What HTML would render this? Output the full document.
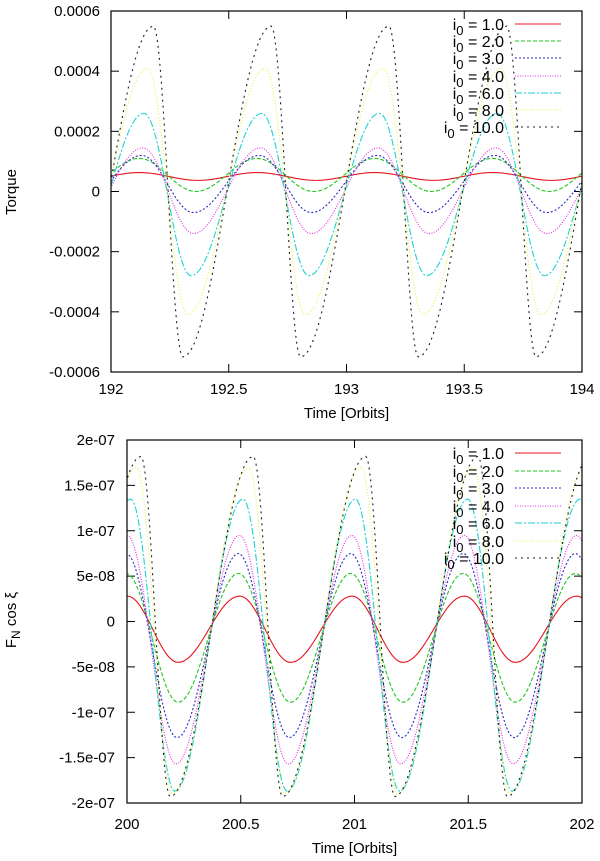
<!DOCTYPE html>
<html><head><meta charset="utf-8"><style>
html,body{margin:0;padding:0;background:#fff;}
svg{display:block;font-family:"Liberation Sans",sans-serif;}
</style></head><body>
<svg id="fig" width="600" height="861" viewBox="0 0 600 861" xmlns="http://www.w3.org/2000/svg"></svg>
<script>
// ---------- shared legend data ----------
const seriesLabels = ["1.0","2.0","3.0","4.0","6.0","8.0","10.0"];
const seriesColors = ["#e8141e","#1ec81e","#2828c8","#e628e6","#1ed2d2","#f0f032","#202020"];
const seriesDash = ["", "4,2", "2,2", "1,1.5", "7,2,2,2", "1,2", "2,4"];

// ---------- top chart (Torque) ----------
const topXTicks = [192,192.5,193,193.5,194];
const topYTicks = [-0.0006,-0.0004,-0.0002,0,0.0002,0.0004,0.0006];
const topYTickLabels = ["-0.0006","-0.0004","-0.0002","0","0.0002","0.0004","0.0006"];
const topPeakValues = [0.000063,0.00011,0.00012,0.000145,0.00026,0.00041,0.00055];
const topTroughValues = [0.000037,0.0,-0.00007,-0.00014,-0.00028,-0.00041,-0.00055];
const topPeakTimes = [
 [191.62,192.12,192.62,193.12,193.62,194.12],
 [191.62,192.12,192.62,193.12,193.62,194.12],
 [191.63,192.13,192.63,193.13,193.63,194.13],
 [191.635,192.135,192.635,193.135,193.635,194.135],
 [191.64,192.14,192.64,193.14,193.64,194.14],
 [191.655,192.155,192.655,193.155,193.655,194.155],
 [191.68,192.18,192.68,193.18,193.68,194.18]
];
const topTroughTimes = [
 [191.87,192.37,192.87,193.37,193.87,194.37],
 [191.86,192.36,192.86,193.36,193.86,194.36],
 [191.85,192.35,192.85,193.35,193.85,194.35],
 [191.85,192.35,192.85,193.35,193.85,194.35],
 [191.84,192.34,192.84,193.34,193.84,194.34],
 [191.825,192.325,192.825,193.325,193.825,194.325],
 [191.805,192.305,192.805,193.305,193.805,194.305]
];

// ---------- bottom chart (F_N cos xi) ----------
const botXTicks = [200,200.5,201,201.5,202];
const botYTicks = [-2e-7,-1.5e-7,-1e-7,-5e-8,0,5e-8,1e-7,1.5e-7,2e-7];
const botYTickLabels = ["-2e-07","-1.5e-07","-1e-07","-5e-08","0","5e-08","1e-07","1.5e-07","2e-07"];
const botPeakValues = [2.8e-8,5.3e-8,7.5e-8,9.5e-8,1.35e-7,1.7e-7,1.82e-7];
const botTroughValues = [-4.5e-8,-8.9e-8,-1.28e-7,-1.57e-7,-1.87e-7,-1.9e-7,-1.93e-7];
const botPeakTimes = [
 [199.507,200.001,200.495,200.989,201.483,201.977],
 [199.502,199.996,200.49,200.984,201.478,201.972],
 [199.502,199.996,200.49,200.984,201.478,201.972],
 [199.507,200.001,200.495,200.989,201.483,201.977],
 [199.522,200.016,200.51,201.004,201.498,201.992],
 [199.547,200.041,200.535,201.029,201.523,202.017],
 [199.567,200.061,200.555,201.049,201.543,202.037]
];
const botTroughTimes = [
 [199.731,200.225,200.719,201.213,201.707,202.201],
 [199.731,200.225,200.719,201.213,201.707,202.201],
 [199.726,200.22,200.714,201.208,201.702,202.196],
 [199.721,200.215,200.709,201.203,201.697,202.191],
 [199.716,200.21,200.704,201.198,201.692,202.186],
 [199.706,200.2,200.694,201.188,201.682,202.176],
 [199.696,200.19,200.684,201.178,201.672,202.166]
];

const NS = "http://www.w3.org/2000/svg";
const svg = document.getElementById("fig");
function mk(tag, attrs, parent){
  const e = document.createElementNS(NS, tag);
  for (const k in attrs) e.setAttribute(k, attrs[k]);
  (parent||svg).appendChild(e);
  return e;
}

function drawChart(cfg){
  const {id,L,R,T,B,xMin,xMax,yMin,yMax,xTicks,yTicks,yTickLabels,peakT,peakV,troughT,troughV,yTitle,legendY,tickLabelRight,xLabelY,xTitleY,yTitleX,yTitleY} = cfg;
  const sx = v => L + (v - xMin) / (xMax - xMin) * (R - L);
  const sy = v => B - (v - yMin) / (yMax - yMin) * (B - T);
  const g = mk("g", {});
  
  
  const clip = mk("clipPath", {id: id + "-clip"}, g);
  mk("rect", {x:L, y:T, width:R-L, height:B-T}, clip);

  // ticks
  yTicks.forEach((v,i) => {
    const y = sy(v);
    const t1 = mk("line", {x1:L, x2:L+8, y1:y, y2:y, stroke:"#000", "stroke-width":1}, g);
    
    
    mk("line", {x1:R, x2:R-8, y1:y, y2:y, stroke:"#000", "stroke-width":1}, g);
    const tx = mk("text", {x:tickLabelRight, y:y+5, "text-anchor":"end", "font-size":15, fill:"#000"}, g);
    tx.textContent = yTickLabels[i];
    
    
  });
  xTicks.forEach(v => {
    const x = sx(v);
    mk("line", {x1:x, x2:x, y1:B, y2:B-8, stroke:"#000", "stroke-width":1}, g);
    mk("line", {x1:x, x2:x, y1:T, y2:T+8, stroke:"#000", "stroke-width":1}, g);
    const tx = mk("text", {x:x, y:xLabelY, "text-anchor":"middle", "font-size":15, fill:"#000"}, g);
    tx.textContent = String(v);
    
    
  });

  // series
  const sg = mk("g", {"clip-path": "url(#" + id + "-clip)"}, g);
  peakV.forEach((pv, s) => {
    const ext = [];
    peakT[s].forEach(t => ext.push([t, peakV[s]]));
    troughT[s].forEach(t => ext.push([t, troughV[s]]));
    ext.sort((a,b) => a[0]-b[0]);
    let d = "";
    for (let i = 0; i < ext.length - 1; i++) {
      const [t0,v0] = ext[i], [t1,v1] = ext[i+1];
      const n = 24;
      for (let k = (i===0?0:1); k <= n; k++) {
        const f = k / n;
        const t = t0 + (t1 - t0) * f;
        const v = v0 + (v1 - v0) * (1 - Math.cos(Math.PI * f)) / 2;
        d += (d ? "L" : "M") + sx(t).toFixed(2) + "," + sy(v).toFixed(2);
      }
    }
    const p = mk("path", {d:d, fill:"none", stroke:seriesColors[s], "stroke-width":1.1, "stroke-dasharray":seriesDash[s]}, sg);
    
    
  });

  // frame
  const fr = mk("rect", {x:L, y:T, width:R-L, height:B-T, fill:"none", stroke:"#000", "stroke-width":1.2}, g);
  
  

  // legend
  seriesLabels.forEach((lab, s) => {
    const y = legendY[s];
    const tx = mk("text", {x:504, y:y+6, "text-anchor":"end", "font-size":16, fill:"#000"}, g);
    
    
    const a = mk("tspan", {}, tx); a.textContent = "i";
    const b = mk("tspan", {"font-size":13, dy:5}, tx); b.textContent = "0";
    const c = mk("tspan", {dy:-5}, tx); c.textContent = " = " + lab;
    const ln = mk("line", {x1:515, x2:561, y1:y, y2:y, stroke:seriesColors[s], "stroke-width":1.1, "stroke-dasharray":seriesDash[s]}, g);
    
    
  });

  // titles
  const xt = mk("text", {x:(L+R)/2, y:xTitleY, "text-anchor":"middle", "font-size":15, fill:"#000"}, g);
  xt.textContent = "Time [Orbits]";
  
  
  const yt = mk("text", {x:0, y:0, "text-anchor":"middle", "font-size":15, fill:"#000", transform:"translate(" + yTitleX + "," + yTitleY + ") rotate(-90)"}, g);
  
  
  if (yTitle === "torque") { yt.textContent = "Torque"; }
  else {
    const a = mk("tspan", {}, yt); a.textContent = "F";
    const b = mk("tspan", {"font-size":12, dy:4}, yt); b.textContent = "N";
    const c = mk("tspan", {dy:-4}, yt); c.textContent = " cos ξ";
  }
}

drawChart({id:"torque", L:111, R:582, T:11, B:372, xMin:192, xMax:194, yMin:-0.0006, yMax:0.0006,
  xTicks:topXTicks, yTicks:topYTicks, yTickLabels:topYTickLabels,
  peakT:topPeakTimes, peakV:topPeakValues, troughT:topTroughTimes, troughV:topTroughValues,
  yTitle:"torque", legendY:[24,41,58,76,93,110,127], tickLabelRight:100, xLabelY:394, xTitleY:418, yTitleX:16, yTitleY:192});

drawChart({id:"fn", L:127, R:582, T:440, B:803, xMin:200, xMax:202, yMin:-2e-7, yMax:2e-7,
  xTicks:botXTicks, yTicks:botYTicks, yTickLabels:botYTickLabels,
  peakT:botPeakTimes, peakV:botPeakValues, troughT:botTroughTimes, troughV:botTroughValues,
  yTitle:"fn", legendY:[453,471,488,506,523,541,558], tickLabelRight:115, xLabelY:829, xTitleY:853, yTitleX:16, yTitleY:620});
</script>
</body></html>
